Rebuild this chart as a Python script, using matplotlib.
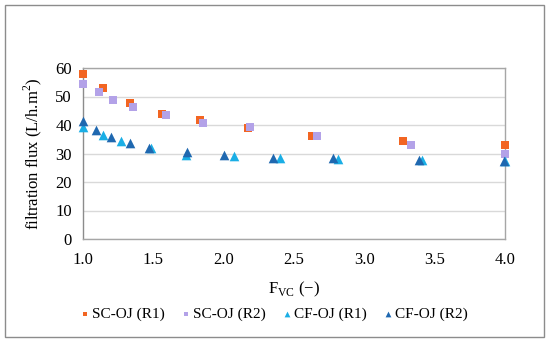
import matplotlib
matplotlib.use("Agg")
import matplotlib.pyplot as plt
from matplotlib.patches import Rectangle

plt.rcParams['font.family'] = ['Liberation Serif', 'DejaVu Serif']
plt.rcParams['mathtext.fontset'] = 'custom'
plt.rcParams['mathtext.rm'] = 'Liberation Serif'

sc_r1_x = [1.0, 1.145, 1.334, 1.564, 1.834, 2.175, 2.625, 3.276, 4.0]
sc_r1_y = [57.8, 53.1, 47.7, 43.8, 41.6, 38.8, 36.0, 34.5, 33.1]
sc_r2_x = [1.0, 1.114, 1.211, 1.353, 1.589, 1.852, 2.19, 2.667, 3.33, 4.0]
sc_r2_y = [54.4, 51.7, 48.8, 46.2, 43.4, 40.6, 39.2, 36.0, 33.1, 30.0]
cf_r1_x = [1.0, 1.14, 1.27, 1.48, 1.73, 2.07, 2.40, 2.815, 3.41, 4.0]
cf_r1_y = [39.2, 36.5, 34.5, 32.1, 29.5, 29.0, 28.3, 27.9, 27.6, 27.3]
cf_r2_x = [1.0, 1.092, 1.196, 1.334, 1.466, 1.74, 2.0, 2.35, 2.775, 3.39, 3.99]
cf_r2_y = [41.3, 38.1, 35.7, 33.6, 32.1, 30.7, 29.6, 28.4, 28.3, 27.8, 27.5]

x_ticks = [1.0, 1.5, 2.0, 2.5, 3.0, 3.5, 4.0]
y_ticks = [0, 10, 20, 30, 40, 50, 60]

fig = plt.figure(figsize=(5.5, 3.43), dpi=100)
ax = fig.add_axes([83/550, 1-239/343, (505-83)/550, (239-68)/343])

kw = dict(zorder=3, linewidths=0, clip_on=False)
ax.scatter(sc_r1_x, sc_r1_y, marker='s', s=34, color='#F26522', label='SC-OJ (R1)', **kw)
ax.scatter(sc_r2_x, sc_r2_y, marker='s', s=34, color='#B3A2E8', label='SC-OJ (R2)', **kw)
ax.scatter(cf_r1_x, cf_r1_y, marker='^', s=48, color='#1AAEE5', label='CF-OJ (R1)', **kw)
ax.scatter(cf_r2_x, cf_r2_y, marker='^', s=48, color='#1F68B0', label='CF-OJ (R2)', **kw)

ax.set_xlim(1.0, 4.0)
ax.set_ylim(0, 60)
ax.set_xticks(x_ticks)
ax.set_xticklabels([f"{v:.1f}" for v in x_ticks])
ax.set_yticks(y_ticks)
ax.tick_params(axis='both', length=0, labelsize=12)
ax.tick_params(axis='x', pad=9)
ax.tick_params(axis='y', pad=8)
ax.grid(axis='y', color='#D9D9D9', linewidth=1)
ax.set_axisbelow(True)
for s in ['top', 'right', 'bottom']:
    ax.spines[s].set_color('#A6A6A6')
ax.spines['left'].set_color('#8C8C8C')
for s in ax.spines.values():
    s.set_linewidth(1)

ax.set_ylabel('filtration flux (L/h.m$^2$)', fontsize=12, labelpad=8)
ax.set_xlabel('F$_{\\mathrm{VC}}$ (−)', fontsize=12, labelpad=9)

fig.legend(loc='center', bbox_to_anchor=(0.497, 1-314/343), ncol=4, frameon=False,
           fontsize=11, handletextpad=0.05, columnspacing=1.0, markerscale=0.6,
           handlelength=0.8)

fig.patches.append(Rectangle((5/550, 1-337/343), 539/550, 332/343, transform=fig.transFigure,
                             fill=False, edgecolor='#8C8C8C', linewidth=1))

fig.savefig('out.png', dpi=100)
